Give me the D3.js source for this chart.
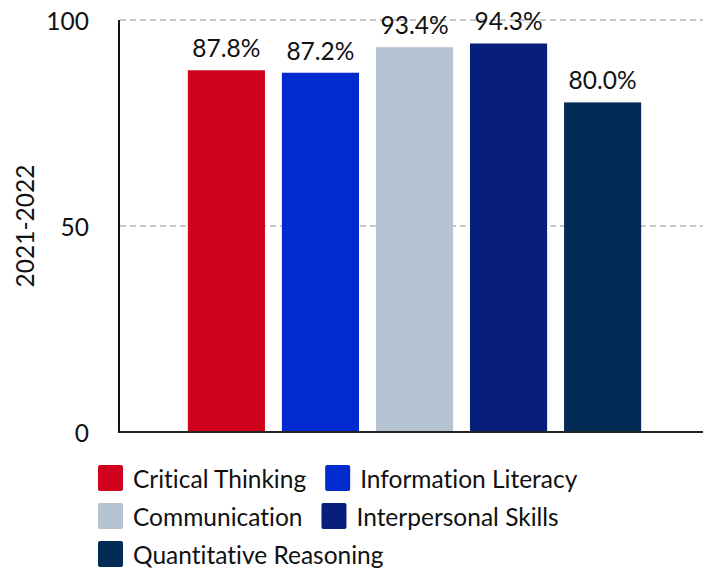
<!DOCTYPE html>
<html>
<head>
<meta charset="utf-8">
<script src="https://cdn.jsdelivr.net/npm/d3@7/dist/d3.min.js"></script>
<style>
  body { margin: 0; background: #fff; }
  text { font-family: Lato, "DejaVu Sans", sans-serif; fill: #111; font-variant-ligatures: none; }
</style>
</head>
<body>
<div id="chart"></div>
<script>
// chart data
var categories = ["Critical Thinking", "Information Literacy", "Communication", "Interpersonal Skills", "Quantitative Reasoning"];
var values = [87.8, 87.2, 93.4, 94.3, 80.0];
var colors = ["#d0021b", "#022bcf", "#b6c3d3", "#081e7b", "#032b56"];
var yTicks = [0, 50, 100];
var groupLabel = "2021-2022";

var width = 703, height = 569;
var margin = {top: 20, right: 0, bottom: 137, left: 120};
var fontSize = "24.5px";

var svg = d3.select("#chart").append("svg")
    .attr("width", width)
    .attr("height", height);

var yScale = d3.scaleLinear()
    .domain([0, 100])
    .range([height - margin.bottom, margin.top]);

var xScale = d3.scaleBand()
    .domain(categories)
    .range([margin.left + 2, width + 4])
    .paddingInner(0.18)
    .paddingOuter(0.7);

var color = d3.scaleOrdinal().domain(categories).range(colors);

// grid lines
svg.append("g")
    .selectAll("line")
    .data(yTicks.filter(function(d) { return d > 0; }))
    .enter().append("line")
    .attr("x1", margin.left)
    .attr("x2", width)
    .attr("y1", function(d) { return yScale(d); })
    .attr("y2", function(d) { return yScale(d); })
    .attr("stroke", "#b5b5b5")
    .attr("stroke-width", 1.5)
    .attr("stroke-dasharray", "6,4");

// y tick labels
svg.append("g")
    .selectAll("text")
    .data(yTicks)
    .enter().append("text")
    .attr("x", 89)
    .attr("y", function(d) { return yScale(d); })
    .attr("text-anchor", "end")
    .attr("dominant-baseline", "central")
    .style("font-size", fontSize)
    .text(function(d) { return d; });

// y axis title
svg.append("text")
    .attr("transform", "translate(24," + yScale(50) + ") rotate(-90)")
    .attr("text-anchor", "middle")
    .attr("dominant-baseline", "central")
    .style("font-size", fontSize)
    .text(groupLabel);

// bars
svg.append("g")
    .selectAll("rect")
    .data(values)
    .enter().append("rect")
    .attr("x", function(d, i) { return xScale(categories[i]); })
    .attr("y", function(d) { return yScale(d); })
    .attr("width", xScale.bandwidth())
    .attr("height", function(d) { return yScale(0) - yScale(d); })
    .attr("fill", function(d, i) { return color(categories[i]); });

// value labels
svg.append("g")
    .selectAll("text")
    .data(values)
    .enter().append("text")
    .attr("x", function(d, i) { return xScale(categories[i]) + xScale.bandwidth() / 2; })
    .attr("y", function(d) { return yScale(d) - 13; })
    .attr("text-anchor", "middle")
    .style("font-size", fontSize)
    .text(function(d) { return d3.format(".1f")(d) + "%"; });

// axis lines
svg.append("line")
    .attr("x1", margin.left - 1).attr("x2", margin.left - 1)
    .attr("y1", margin.top).attr("y2", yScale(0) + 1)
    .attr("stroke", "#111").attr("stroke-width", 2);

svg.append("line")
    .attr("x1", margin.left - 1).attr("x2", width)
    .attr("y1", yScale(0)).attr("y2", yScale(0))
    .attr("stroke", "#222").attr("stroke-width", 2);

// legend, flowing rows
var legend = svg.append("g");
var lx = 98, ly = 465, rowH = 38, maxX = 640;
categories.forEach(function(c, i) {
    var item = legend.append("g");
    item.append("rect")
        .attr("width", 25).attr("height", 26)
        .attr("rx", 2)
        .attr("fill", color(c));
    var t = item.append("text")
        .attr("x", 35).attr("y", 13)
        .attr("dominant-baseline", "central")
        .style("font-size", fontSize)
        .text(c);
    var w = 35 + t.node().getComputedTextLength();
    if (lx + w > maxX && lx > 98) { lx = 98; ly += rowH; }
    item.attr("transform", "translate(" + lx + "," + ly + ")");
    lx += w + 19;
});
</script>
</body>
</html>
